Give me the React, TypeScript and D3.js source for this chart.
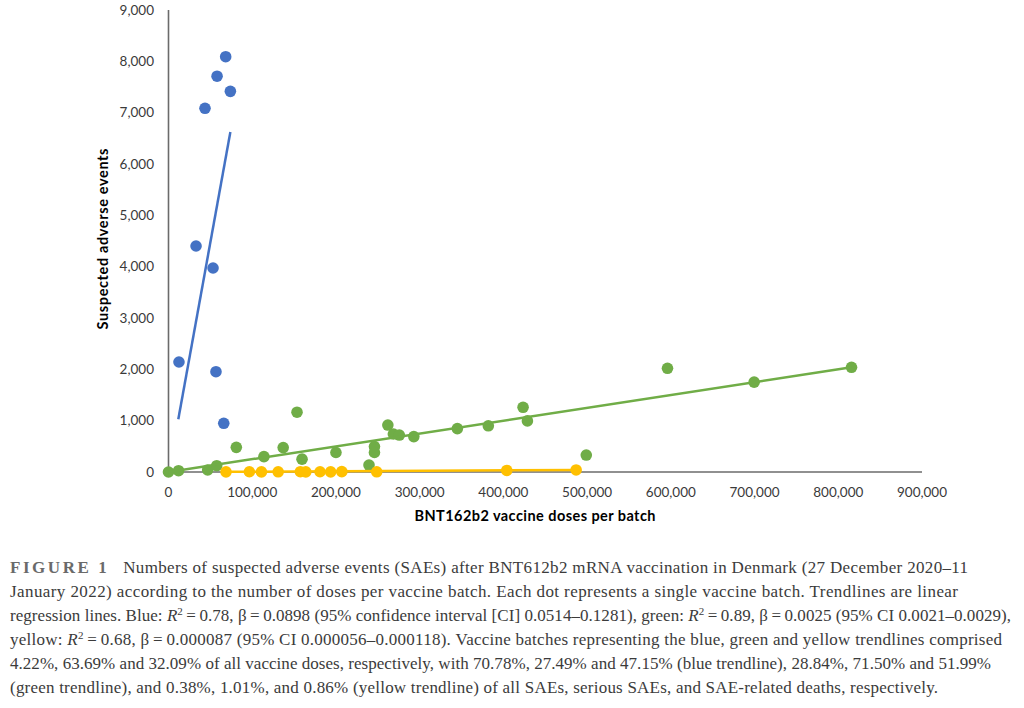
import React from "react";
import * as d3 from "d3";

// ---- data ----
const blueDoses = [12500, 32900, 43600, 53200, 58000, 56700, 66000, 68300, 73900];
const blueSAEs = [2143, 4403, 7085, 3974, 7710, 1954, 949, 8090, 7415];

const greenDoses = [0, 12000, 46800, 57600, 81000, 114000, 137000, 153500, 159500, 200000, 239500, 246000, 246000, 262000, 268600, 275700, 293000, 345000, 382000, 423500, 428700, 499000, 596000, 699500, 815800];
const greenSAEs = [0, 25, 40, 123, 480, 300, 475, 1165, 250, 380, 135, 495, 380, 915, 740, 720, 690, 845, 900, 1260, 995, 330, 2020, 1750, 2040];

const yellowDoses = [68700, 96600, 111000, 131000, 157500, 164000, 181000, 193700, 207000, 248700, 404000, 486900];
const yellowSAEs = [3, 5, 2, 4, 6, 3, 5, 2, 7, 4, 30, 40];

// trendline end points [doses, SAEs]
const blueTrend = [[11700, 1026], [73900, 6624]];
const greenTrend = [[0, 0], [815800, 2040]];
const yellowTrend = [[68700, 4], [486900, 40]];

const xTicks = [0, 100000, 200000, 300000, 400000, 500000, 600000, 700000, 800000, 900000];
const yTicks = [0, 1000, 2000, 3000, 4000, 5000, 6000, 7000, 8000, 9000];

const xTitle = "BNT162b2 vaccine doses per batch";
const yTitle = "Suspected adverse events";

const BLUE = "#4472C4";
const GREEN = "#70AD47";
const YELLOW = "#FFC000";

export default function App() {
  const x = d3.scaleLinear().domain([0, 900000]).range([168.5, 922]);
  const y = d3.scaleLinear().domain([0, 9000]).range([472, 10]);
  const fmt = d3.format(",");
  const line = d3
    .line<number[]>()
    .x((d) => x(d[0]))
    .y((d) => y(d[1]));

  const series = [
    { doses: blueDoses, saes: blueSAEs, color: BLUE },
    { doses: greenDoses, saes: greenSAEs, color: GREEN },
    { doses: yellowDoses, saes: yellowSAEs, color: YELLOW },
  ];
  const trends = [
    { pts: blueTrend, color: BLUE },
    { pts: greenTrend, color: GREEN },
    { pts: yellowTrend, color: YELLOW },
  ];

  const capFont = "'Liberation Serif', 'Times New Roman', serif";
  const capColor = "#3b3b3b";
  const R2 = (
    <>
      <tspan fontStyle="italic">R</tspan>
      <tspan dy={-6} fontSize={11}>2</tspan>
      <tspan dy={6}>{"\u2009=\u2009"}</tspan>
    </>
  );
  const EQ = "\u2009=\u2009";

  return (
    <svg
      width={1024}
      height={708}
      style={{ position: "absolute", left: 0, top: 0, background: "#fff" }}
    >
      <rect width={1024} height={708} fill="#fff" />
      <g fontFamily="Lato, 'Open Sans', sans-serif">
        {/* axes */}
        <line x1={x(0)} x2={x(0)} y1={y(9000)} y2={y(0)} stroke="#6b6b6b" strokeWidth={1.6} />
        <line x1={x(0)} x2={x(900000)} y1={y(0)} y2={y(0)} stroke="#6b6b6b" strokeWidth={1.6} />
        {yTicks.map((t) => (
          <text key={t} x={154} y={y(t)} dy="0.35em" textAnchor="end" fontSize={13.5} fill="#3a3a3a">
            {fmt(t)}
          </text>
        ))}
        {xTicks.map((t) => (
          <text key={t} x={x(t)} y={497} textAnchor="middle" fontSize={13.5} fill="#3a3a3a">
            {fmt(t)}
          </text>
        ))}
        <text x={535} y={521} textAnchor="middle" fontSize={14.5} fontWeight="bold" fill="#000" textLength={241}>
          {xTitle}
        </text>
        <text
          transform="translate(108,239) rotate(-90)"
          textAnchor="middle"
          fontSize={14.5}
          fontWeight="bold"
          fill="#000"
          textLength={181}
        >
          {yTitle}
        </text>

        {/* points */}
        {series.map((s, si) => (
          <g key={si} fill={s.color}>
            {s.doses.map((d, i) => (
              <circle key={i} cx={x(d)} cy={y(s.saes[i])} r={5.8} />
            ))}
          </g>
        ))}
        {/* trendlines */}
        {trends.map((t, i) => (
          <path key={i} d={line(t.pts) || ""} fill="none" stroke={t.color} strokeWidth={2.5} />
        ))}
      </g>

      {/* caption */}
      <g fontFamily={capFont} fontSize={17} fill={capColor}>
        <text x={10} y={573} textLength={958} lengthAdjust="spacing">
          <tspan fontWeight="bold" fill="#6a6a6a" letterSpacing={2.2}>FIGURE 1</tspan>
          <tspan dx={14}>Numbers of suspected adverse events (SAEs) after BNT612b2 mRNA vaccination in Denmark (27 December 2020–11</tspan>
        </text>
        <text x={10} y={597} textLength={948} lengthAdjust="spacing">
          January 2022) according to the number of doses per vaccine batch. Each dot represents a single vaccine batch. Trendlines are linear
        </text>
        <text x={10} y={621} textLength={1001} lengthAdjust="spacing">
          regression lines. Blue: {R2}0.78, β{EQ}0.0898 (95% confidence interval [CI] 0.0514–0.1281), green: {R2}0.89, β{EQ}0.0025 (95% CI 0.0021–0.0029),
        </text>
        <text x={10} y={645} textLength={992} lengthAdjust="spacing">
          yellow: {R2}0.68, β{EQ}0.000087 (95% CI 0.000056–0.000118). Vaccine batches representing the blue, green and yellow trendlines comprised
        </text>
        <text x={10} y={669} textLength={981} lengthAdjust="spacing">
          4.22%, 63.69% and 32.09% of all vaccine doses, respectively, with 70.78%, 27.49% and 47.15% (blue trendline), 28.84%, 71.50% and 51.99%
        </text>
        <text x={10} y={693} textLength={928} lengthAdjust="spacing">
          (green trendline), and 0.38%, 1.01%, and 0.86% (yellow trendline) of all SAEs, serious SAEs, and SAE-related deaths, respectively.
        </text>
      </g>
    </svg>
  );
}
